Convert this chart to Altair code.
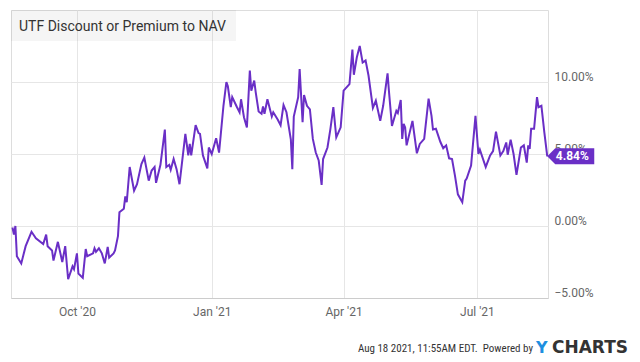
import altair as alt
import pandas as pd

TITLE = "UTF Discount or Premium to NAV"
FOOTER = "Aug 18 2021, 11:55AM EDT.\u00a0 Powered by"

dates = [
    "2020-08-18", "2020-08-19", "2020-08-20", "2020-08-21", "2020-08-24", "2020-08-27", "2020-08-31",
    "2020-09-03", "2020-09-08", "2020-09-10", "2020-09-11", "2020-09-14", "2020-09-15", "2020-09-18",
    "2020-09-21", "2020-09-23", "2020-09-25", "2020-09-28", "2020-09-29", "2020-10-01", "2020-10-02",
    "2020-10-05", "2020-10-07", "2020-10-08", "2020-10-12", "2020-10-13", "2020-10-14", "2020-10-16",
    "2020-10-18", "2020-10-20", "2020-10-22", "2020-10-23", "2020-10-26", "2020-10-27", "2020-10-29",
    "2020-10-30", "2020-11-02", "2020-11-03", "2020-11-04", "2020-11-06", "2020-11-09", "2020-11-11",
    "2020-11-14", "2020-11-16", "2020-11-19", "2020-11-21", "2020-11-23", "2020-11-24", "2020-11-27",
    "2020-11-30", "2020-12-01", "2020-12-03", "2020-12-04", "2020-12-06", "2020-12-08", "2020-12-10",
    "2020-12-14", "2020-12-16", "2020-12-17", "2020-12-18", "2020-12-21", "2020-12-23", "2020-12-24",
    "2020-12-26", "2020-12-29", "2020-12-30", "2021-01-01", "2021-01-04", "2021-01-06", "2021-01-09",
    "2021-01-11", "2021-01-12", "2021-01-14", "2021-01-15", "2021-01-18", "2021-01-20", "2021-01-21",
    "2021-01-23", "2021-01-25", "2021-01-27", "2021-01-28", "2021-01-30", "2021-01-31", "2021-02-02",
    "2021-02-04", "2021-02-05", "2021-02-06", "2021-02-08", "2021-02-11", "2021-02-12", "2021-02-15",
    "2021-02-17", "2021-02-19", "2021-02-21", "2021-02-24", "2021-02-25", "2021-02-26", "2021-03-01",
    "2021-03-02", "2021-03-04", "2021-03-05", "2021-03-07", "2021-03-09", "2021-03-11", "2021-03-13",
    "2021-03-15", "2021-03-17", "2021-03-18", "2021-03-21", "2021-03-23", "2021-03-25", "2021-03-27",
    "2021-03-30", "2021-04-01", "2021-04-05", "2021-04-07", "2021-04-08", "2021-04-10", "2021-04-12",
    "2021-04-14", "2021-04-16", "2021-04-18", "2021-04-21", "2021-04-23", "2021-04-26", "2021-04-28",
    "2021-05-01", "2021-05-02", "2021-05-04", "2021-05-07", "2021-05-08", "2021-05-10", "2021-05-11",
    "2021-05-12", "2021-05-13", "2021-05-14", "2021-05-18", "2021-05-21", "2021-05-23", "2021-05-26",
    "2021-05-29", "2021-05-31", "2021-06-01", "2021-06-03", "2021-06-06", "2021-06-08", "2021-06-10",
    "2021-06-12", "2021-06-14", "2021-06-16", "2021-06-18", "2021-06-21", "2021-06-23", "2021-06-24",
    "2021-06-27", "2021-06-30", "2021-07-02", "2021-07-03", "2021-07-07", "2021-07-10", "2021-07-12",
    "2021-07-14", "2021-07-17", "2021-07-19", "2021-07-21", "2021-07-22", "2021-07-24", "2021-07-26",
    "2021-07-28", "2021-07-31", "2021-08-02", "2021-08-04", "2021-08-05", "2021-08-06", "2021-08-07",
    "2021-08-09", "2021-08-11", "2021-08-12", "2021-08-14", "2021-08-16", "2021-08-18",
]

values = [
    -0.1, -0.6, 0.0, -2.1, -2.6, -1.4, -0.4,
    -0.85, -1.25, -0.6, -1.4, -1.7, -2.4, -1.1,
    -2.5, -1.4, -3.7, -2.8, -3.0, -1.9, -3.3,
    -3.6, -1.6, -2.1, -1.9, -1.55, -1.8, -1.55,
    -1.9, -2.6, -1.45, -2.2, -1.9, -1.7, -0.7,
    0.95, 1.2, 2.05, 1.65, 4.1, 2.45, 2.9,
    4.3, 4.75, 3.15, 3.85, 4.1, 3.0, 4.25,
    6.7, 4.1, 4.25, 3.9, 4.65, 3.95, 2.9,
    6.4, 4.9, 5.7, 4.9, 7.0, 6.45, 6.4,
    4.9, 4.0, 5.45, 5.0, 6.1, 5.1, 8.35,
    10.0, 9.7, 8.25, 8.95, 8.3, 7.9, 8.8,
    7.55, 6.85, 10.8, 9.4, 10.1, 9.3, 7.95,
    7.8, 8.3, 7.8, 8.8, 7.6, 7.9, 7.4,
    7.0, 8.4, 7.9, 6.0, 3.95, 7.6, 8.95,
    10.9, 7.2, 9.1, 8.35, 8.1, 6.05, 5.1,
    4.55, 2.85, 4.65, 5.45, 6.75, 8.25, 6.15,
    6.85, 9.4, 9.85, 12.25, 10.5, 11.7, 12.5,
    11.35, 11.5, 10.45, 8.2, 8.7, 7.3, 8.35,
    10.6, 9.3, 6.95, 8.0, 7.85, 8.75, 6.05,
    7.1, 6.85, 5.6, 7.3, 5.05, 5.7, 6.05,
    8.85, 7.65, 6.7, 6.75, 5.85, 5.4, 5.6,
    4.7, 4.65, 3.5, 2.2, 1.65, 3.15, 3.3,
    4.2, 7.65, 5.0, 5.3, 4.1, 4.9, 5.2,
    6.55, 4.9, 5.2, 5.8, 4.95, 6.0, 5.0,
    3.55, 5.45, 5.6, 4.4, 5.6, 5.35, 6.75,
    6.75, 8.95, 8.25, 8.35, 6.5, 4.84,
]

y_ticks = [-5, 0, 5, 10]
x_ticks = [(2020, 10), (2021, 1), (2021, 4), (2021, 7)]

PURPLE = "#6a2fc6"

df = pd.DataFrame({"date": dates, "value": values})
last = df.tail(1).copy()
last["label"] = last["value"].map(lambda v: f"{v:.2f}%")

x_enc = alt.X(
    "date:T",
    scale=alt.Scale(domain=[alt.DateTime(year=2020, month=8, date=17),
                            alt.DateTime(year=2021, month=8, date=18, hours=12)]),
    axis=alt.Axis(
        title=None,
        values=[alt.DateTime(year=y, month=m, date=1) for y, m in x_ticks],
        format="%b '%y",
        grid=True,
        ticks=False,
        domain=True,
        domainColor="#cccccc",
        labelPadding=8,
        labelFont="Roboto",
        labelFontSize=12,
        labelColor="#666666",
    ),
)
y_enc = alt.Y(
    "value:Q",
    scale=alt.Scale(domain=[-5, 15], nice=False, zero=False),
    axis=alt.Axis(
        title=None,
        orient="right",
        values=y_ticks,
        labelExpr="format(datum.value, '.2f') + '%'",
        grid=True,
        ticks=False,
        domain=False,
        labelPadding=6,
        labelAlign="left",
        labelBaseline="alphabetic",
        labelOffset=-2,
        labelFont="Roboto",
        labelFontSize=12,
        labelColor="#666666",
    ),
)

line = alt.Chart(df).mark_line(color=PURPLE, strokeWidth=2).encode(x=x_enc, y=y_enc)

one = alt.Data(values=[{}])

title_box = alt.Chart(one).mark_rect(color="#000000", opacity=0.04).encode(
    x=alt.value(0), x2=alt.value(225), y=alt.value(0), y2=alt.value(31)
)
title_text = alt.Chart(one).mark_text(
    text=TITLE, font="Roboto", fontSize=14, color="#333333", align="left", baseline="middle"
).encode(x=alt.value(8), y=alt.value(16.5))

badge = alt.Chart(last).mark_point(
    shape="M0,0L0.333,-0.333L1.958,-0.333L1.958,0.333L0.333,0.333Z",
    size=2304, filled=True, color=PURPLE, opacity=1, strokeWidth=0,
).encode(x="date:T", y="value:Q")
badge_text = alt.Chart(last).mark_text(
    dx=25, font="Roboto", fontSize=12, fontWeight="bold", color="white", align="center", baseline="middle"
).encode(x="date:T", y="value:Q", text="label:N")

footer = alt.Chart(one).mark_text(
    text=FOOTER, font="Liberation Sans Narrow, Roboto Condensed, Liberation Sans",
    fontSize=11, color="#333333", align="right", baseline="alphabetic"
).encode(x=alt.value(522), y=alt.value(342))
logo_y = alt.Chart(one).mark_text(
    text="Y", font="DejaVu Sans", fontSize=16, fontWeight="bold", color="#1e8fe0",
    align="left", baseline="alphabetic"
).encode(x=alt.value(525), y=alt.value(343))
logo_rest = alt.Chart(one).mark_text(
    text="CHARTS", font="DejaVu Sans", fontSize=17, fontWeight="bold", color="#333333",
    align="left", baseline="alphabetic"
).encode(x=alt.value(541), y=alt.value(343))

chart = alt.layer(
    title_box, line, title_text, badge, badge_text, footer, logo_y, logo_rest
).properties(
    width=537,
    height=288,
    padding={"left": 3, "top": 2, "right": 84, "bottom": 61},
    autosize=alt.AutoSizeParams(type="none"),
    background="white",
).configure_view(
    stroke="#dddddd", strokeWidth=1
).configure_axis(
    gridColor="#e6e6e6", gridWidth=1
)

chart.save("out.html", embed_options={"renderer": "svg", "actions": False})
